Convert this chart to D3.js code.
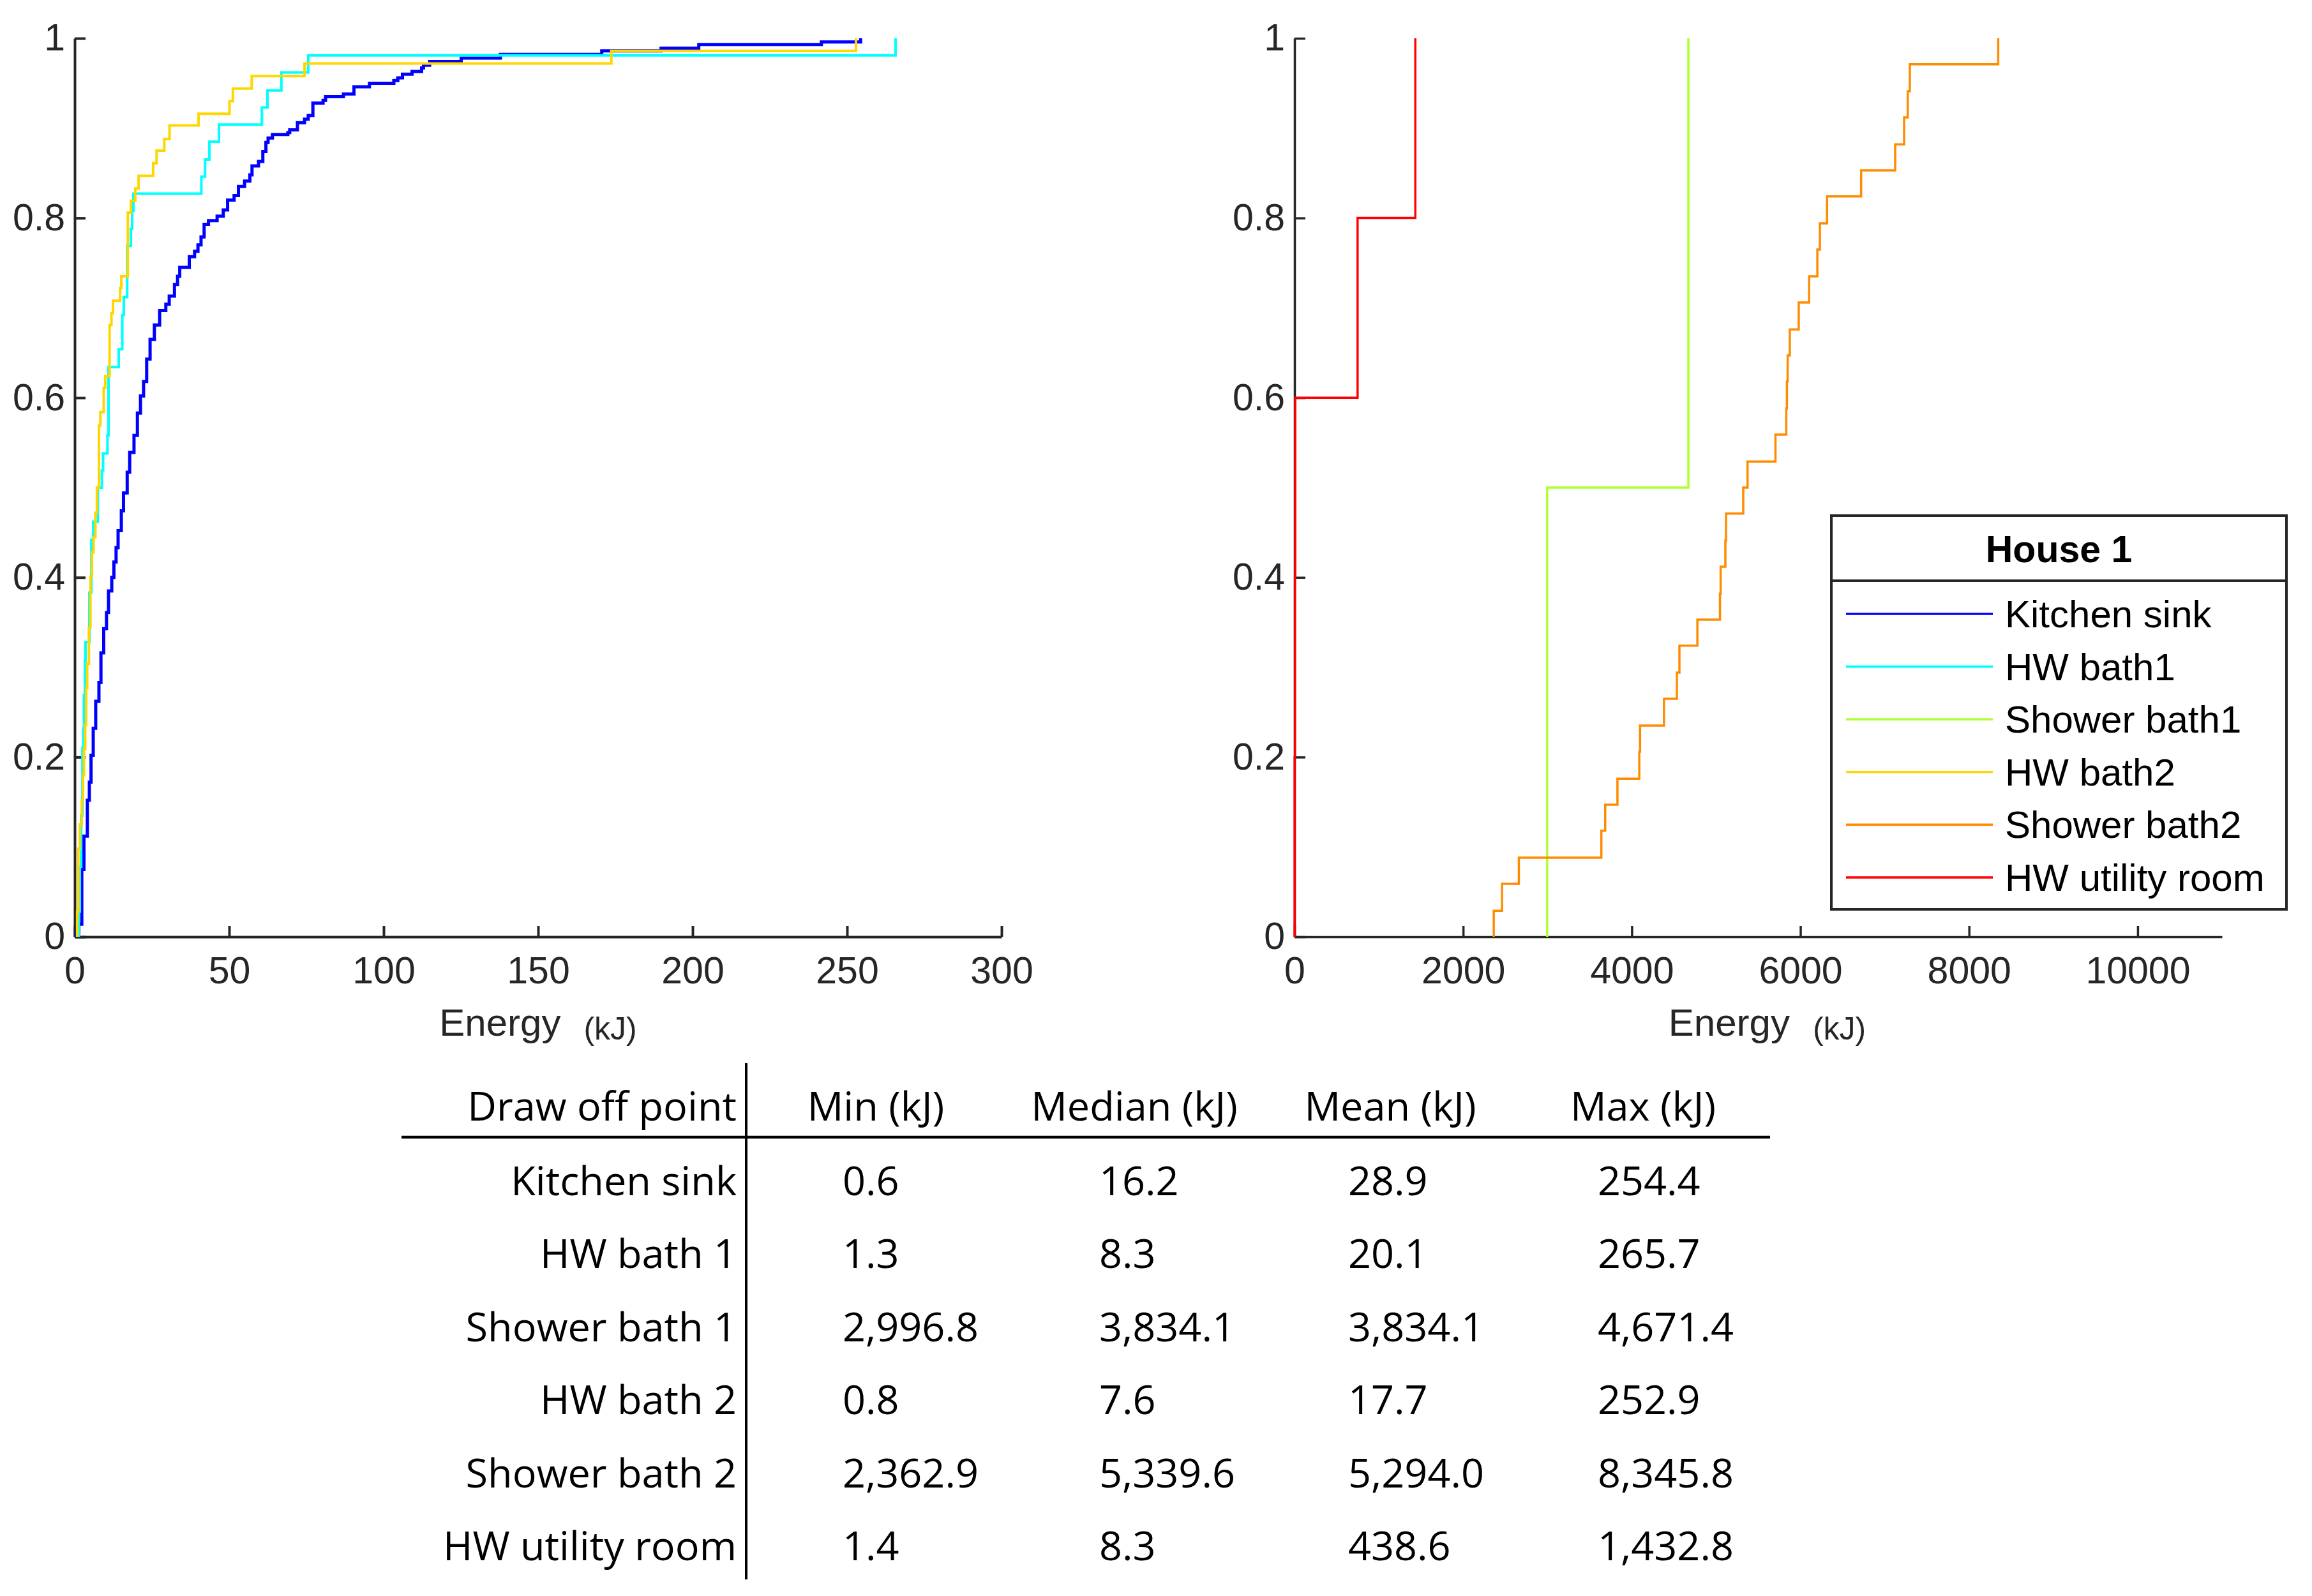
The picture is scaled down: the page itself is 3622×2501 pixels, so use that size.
<!DOCTYPE html>
<html>
<head>
<meta charset="utf-8">
<script src="https://cdn.jsdelivr.net/npm/d3@7"></script>
<style>
  body { margin: 0; background: #fff; }
  svg { display: block; }
</style>
</head>
<body>
<svg id="chart"></svg>
<script>
// ECDF risers: [energy kJ, cumulative fraction after the step]
const kitchenSink = [
  [0.6, 0.004], [1.3, 0.014], [2.3, 0.075], [3.0, 0.112], [4.1, 0.152], [4.75, 0.172],
  [5.3, 0.202], [6.0, 0.232], [6.8, 0.262], [7.85, 0.283], [8.5, 0.316], [9.4, 0.343],
  [10.3, 0.361], [10.95, 0.385], [12.0, 0.400], [12.7, 0.417], [13.4, 0.433], [14.05, 0.452],
  [15.1, 0.474], [15.8, 0.494], [17.0, 0.517], [17.8, 0.539], [19.2, 0.558], [20.3, 0.583],
  [21.3, 0.602], [22.3, 0.618], [23.3, 0.643], [24.4, 0.665], [25.8, 0.681], [27.5, 0.697],
  [29.5, 0.704], [30.6, 0.713], [32.3, 0.726], [33.3, 0.735], [34.0, 0.745], [37.1, 0.757],
  [38.8, 0.763], [39.9, 0.770], [40.9, 0.779], [41.9, 0.793], [43.3, 0.797], [46.1, 0.802],
  [48.1, 0.809], [49.5, 0.820], [51.6, 0.825], [53.0, 0.835], [55.0, 0.841], [56.7, 0.848],
  [57.4, 0.858], [59.5, 0.863], [60.9, 0.874], [61.9, 0.884], [62.6, 0.889], [64.0, 0.893],
  [69.0, 0.895], [69.6, 0.898], [72.1, 0.906], [74.4, 0.910], [75.6, 0.914], [77.1, 0.928],
  [80.4, 0.931], [81.2, 0.935], [87.0, 0.938], [90.4, 0.946], [95.4, 0.950], [103.3, 0.953],
  [104.6, 0.956], [106.1, 0.960], [109.2, 0.963], [112.3, 0.967], [112.9, 0.970], [114.9, 0.974],
  [125.1, 0.978], [137.8, 0.982], [170.6, 0.986], [189.8, 0.989], [202.0, 0.993], [241.7, 0.996],
  [254.4, 1.0]
];
const hwBath1 = [
  [1.3, 0.028], [1.65, 0.078], [2.1, 0.135], [2.5, 0.210], [2.8, 0.232], [3.0, 0.269],
  [3.3, 0.307], [3.5, 0.328], [4.75, 0.383], [5.4, 0.442], [6.0, 0.462], [7.5, 0.500],
  [8.8, 0.519], [9.2, 0.538], [10.6, 0.558], [10.95, 0.634], [14.25, 0.654], [15.4, 0.692],
  [15.9, 0.712], [17.0, 0.769], [18.2, 0.788], [18.6, 0.808], [19.0, 0.827], [41.0, 0.846],
  [42.2, 0.865], [43.6, 0.885], [46.7, 0.904], [60.6, 0.923], [62.4, 0.942], [66.9, 0.962],
  [75.6, 0.981], [265.7, 1.0]
];
const showerBath1 = [[2996.8, 0.5], [4671.4, 1.0]];
const hwBath2 = [
  [0.8, 0.028], [1.17, 0.098], [1.65, 0.125], [2.3, 0.152], [2.7, 0.180], [3.0, 0.209],
  [3.4, 0.236], [3.7, 0.277], [4.05, 0.304], [4.6, 0.344], [5.1, 0.401], [5.6, 0.428],
  [6.1, 0.445], [6.7, 0.472], [7.2, 0.500], [7.85, 0.569], [8.3, 0.584], [9.4, 0.611],
  [9.9, 0.624], [11.3, 0.681], [11.9, 0.694], [12.4, 0.708], [14.7, 0.722], [15.1, 0.735],
  [17.2, 0.806], [18.2, 0.819], [19.6, 0.833], [20.7, 0.847], [25.4, 0.861], [26.5, 0.875],
  [29.0, 0.888], [30.7, 0.903], [40.1, 0.916], [50.1, 0.930], [51.2, 0.944], [57.3, 0.958],
  [74.4, 0.972], [173.7, 0.986], [252.9, 1.0]
];
const showerBath2 = [
  [2362.9, 0.029], [2461, 0.059], [2661, 0.088], [3639, 0.118], [3685, 0.147], [3830, 0.176],
  [4089, 0.206], [4098, 0.235], [4382, 0.265], [4535, 0.294], [4565, 0.324], [4778, 0.353],
  [5046, 0.382], [5054, 0.412], [5110, 0.441], [5118, 0.471], [5322, 0.500], [5373, 0.529],
  [5704, 0.559], [5832, 0.588], [5840, 0.618], [5849, 0.647], [5874, 0.676], [5980, 0.706],
  [6103, 0.735], [6201, 0.765], [6231, 0.794], [6316, 0.824], [6720, 0.853], [7124, 0.882],
  [7230, 0.912], [7273, 0.941], [7298, 0.971], [8345.8, 1.0]
];
const hwUtilityRoom = [[1.4, 0.2], [5.0, 0.4], [8.3, 0.6], [748, 0.8], [1432.8, 1.0]];

const legendTitle = "House 1";
const seriesNames = ["Kitchen sink", "HW bath1", "Shower bath1", "HW bath2", "Shower bath2", "HW utility room"];

const yTicks = [0, 0.2, 0.4, 0.6, 0.8, 1];
const xTicksLeft = [0, 50, 100, 150, 200, 250, 300];
const xTicksRight = [0, 2000, 4000, 6000, 8000, 10000];

// table
const tableHeaders = ["Draw off point", "Min (kJ)", "Median (kJ)", "Mean (kJ)", "Max (kJ)"];
const drawOffPoints = ["Kitchen sink", "HW bath 1", "Shower bath 1", "HW bath 2", "Shower bath 2", "HW utility room"];
const minKJ = [0.6, 1.3, 2996.8, 0.8, 2362.9, 1.4];
const medianKJ = [16.2, 8.3, 3834.1, 7.6, 5339.6, 8.3];
const meanKJ = [28.9, 20.1, 3834.1, 17.7, 5294.0, 438.6];
const maxKJ = [254.4, 265.7, 4671.4, 252.9, 8345.8, 1432.8];

const W = 3622, H = 2501;
const axisColor = "#262626";
const axisFont = "'Liberation Sans', Arial, Helvetica, sans-serif";
const tableFont = "'Open Sans', 'Noto Sans', sans-serif";

const series = [
  { name: seriesNames[0], data: kitchenSink, color: "#0000ff", panel: 0, width: 5 },
  { name: seriesNames[1], data: hwBath1, color: "#00ffff", panel: 0, width: 4 },
  { name: seriesNames[2], data: showerBath1, color: "#adff2f", panel: 1, width: 3.5 },
  { name: seriesNames[3], data: hwBath2, color: "#ffd700", panel: 0, width: 4 },
  { name: seriesNames[4], data: showerBath2, color: "#ff8c00", panel: 1, width: 3.5 },
  { name: seriesNames[5], data: hwUtilityRoom, color: "#ff0000", panel: 1, width: 3.5 }
];

const svg = d3.select("#chart")
    .attr("width", W)
    .attr("height", H)
    .attr("viewBox", `0 0 ${W} ${H}`);

svg.append("rect").attr("width", W).attr("height", H).attr("fill", "#fff");

const y = d3.scaleLinear().domain([0, 1]).range([1468, 60]);

const panels = [
  { x: d3.scaleLinear().domain([0, 300]).range([117, 1569]), ticks: xTicksLeft, labelShift: 0, stroke: 4 },
  { x: d3.scaleLinear().domain([0, 11000]).range([2028, 3481]), ticks: xTicksRight, labelShift: 14, stroke: 3.5 }
];

panels.forEach(p => {
    const g = svg.append("g");

    const yAxis = g.append("g")
        .attr("transform", `translate(${p.x.range()[0]},0)`)
        .call(d3.axisLeft(y).tickValues(yTicks).tickFormat(d3.format("~g"))
            .tickSize(-17).tickSizeOuter(0).tickPadding(15));

    const xAxis = g.append("g")
        .attr("transform", `translate(0,${y(0)})`)
        .call(d3.axisBottom(p.x).tickValues(p.ticks).tickFormat(d3.format("d"))
            .tickSize(-17).tickSizeOuter(0).tickPadding(31));

    [yAxis, xAxis].forEach(a => {
        a.select(".domain").attr("stroke", axisColor).attr("stroke-width", p.stroke);
        a.selectAll(".tick line").attr("stroke", axisColor).attr("stroke-width", p.stroke);
        a.selectAll(".tick text")
            .attr("fill", axisColor)
            .attr("font-family", axisFont)
            .attr("font-size", 59);
    });

    // axis title
    const cx = (p.x.range()[0] + p.x.range()[1]) / 2 + p.labelShift;
    const t = g.append("text")
        .attr("x", cx)
        .attr("y", 1623)
        .attr("text-anchor", "middle")
        .attr("fill", axisColor)
        .attr("font-family", axisFont);
    t.append("tspan").attr("font-size", 60).text("Energy");
    t.append("tspan").attr("font-size", 50).attr("dx", 36).attr("dy", 6).text("(kJ)");
});

// ECDF stairs
const stairs = d3.line().curve(d3.curveStepAfter);
series.forEach(s => {
    const xs = panels[s.panel].x;
    const pts = [[s.data[0][0], 0]].concat(s.data);
    svg.append("path")
        .attr("d", stairs(pts.map(d => [xs(d[0]), y(d[1])])))
        .attr("fill", "none")
        .attr("stroke", s.color)
        .attr("stroke-width", s.width);
});

// legend
const lg = svg.append("g");
const box = { x0: 2869, x1: 3582, y0: 808, y1: 1425, sep: 910 };
lg.append("rect")
    .attr("x", box.x0).attr("y", box.y0)
    .attr("width", box.x1 - box.x0).attr("height", box.y1 - box.y0)
    .attr("fill", "#fff").attr("stroke", axisColor).attr("stroke-width", 4);
lg.append("line")
    .attr("x1", box.x0).attr("x2", box.x1)
    .attr("y1", box.sep).attr("y2", box.sep)
    .attr("stroke", axisColor).attr("stroke-width", 4);
lg.append("text")
    .attr("x", (box.x0 + box.x1) / 2).attr("y", 881)
    .attr("text-anchor", "middle")
    .attr("font-family", axisFont).attr("font-weight", "bold").attr("font-size", 59)
    .attr("fill", "#000")
    .text(legendTitle);

const ly = d3.scalePoint().domain(seriesNames).range([962, 1375]);
const items = lg.selectAll(".item")
    .data(series)
    .enter().append("g")
    .attr("class", "item")
    .attr("transform", d => `translate(0,${ly(d.name)})`);
items.append("line")
    .attr("x1", 2892).attr("x2", 3122)
    .attr("stroke", d => d.color).attr("stroke-width", 3.6);
items.append("text")
    .attr("x", 3141).attr("dy", "0.35em")
    .attr("font-family", axisFont).attr("font-size", 60).attr("fill", "#000")
    .text(d => d.name);

// statistics table
const fmt = d3.format(",.1f");
const tb = svg.append("g").attr("font-family", tableFont).attr("font-size", 63).attr("fill", "#000");

tb.append("line")
    .attr("x1", 629).attr("x2", 2773).attr("y1", 1782).attr("y2", 1782)
    .attr("stroke", "#000").attr("stroke-width", 4.3);
tb.append("line")
    .attr("x1", 1169).attr("x2", 1169).attr("y1", 1666).attr("y2", 2475)
    .attr("stroke", "#000").attr("stroke-width", 4);

const headerX = [1154, 1372, 1777, 2178, 2574];
tb.selectAll(".hdr")
    .data(tableHeaders)
    .enter().append("text")
    .attr("class", "hdr")
    .attr("x", (d, i) => headerX[i])
    .attr("y", 1756)
    .attr("text-anchor", (d, i) => i === 0 ? "end" : "middle")
    .text(d => d);

const rowY = d3.scalePoint().domain(drawOffPoints).range([1873, 2445]);
const colX = [1320, 1722, 2112, 2503];
const cols = [minKJ, medianKJ, meanKJ, maxKJ];

drawOffPoints.forEach((name, r) => {
    tb.append("text")
        .attr("x", 1154).attr("y", rowY(name))
        .attr("text-anchor", "end")
        .text(name);
    cols.forEach((col, c) => {
        tb.append("text")
            .attr("x", colX[c]).attr("y", rowY(name))
            .text(fmt(col[r]));
    });
});
</script>
</body>
</html>
